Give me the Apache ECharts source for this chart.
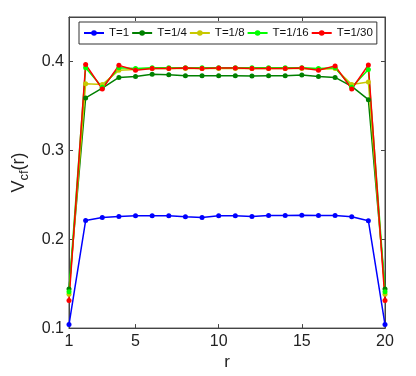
<!DOCTYPE html>
<html>
<head>
<meta charset="utf-8">
<script src="https://cdn.jsdelivr.net/npm/echarts@6/dist/echarts.min.js"></script>
<style>
  html, body { margin: 0; padding: 0; background: #fff; }
  #chart { width: 416px; height: 376px; }
</style>
</head>
<body>
<div id="chart"></div>
<script>
  // r = 1..20
  var r = [1,2,3,4,5,6,7,8,9,10,11,12,13,14,15,16,17,18,19,20];
  var xTicks = [1, 5, 10, 15, 20];
  var seriesNames = ['T=1', 'T=1/4', 'T=1/8', 'T=1/16', 'T=1/30'];
  var seriesColors = ['#0000ff', '#008000', '#c8c800', '#00ff00', '#ff0000'];

  var vT1 = [0.104,0.221,0.2245,0.2256,0.2263,0.2265,0.2265,0.2252,0.2244,0.2263,0.2263,0.2256,0.2267,0.2267,0.227,0.2267,0.2266,0.2252,0.2208,0.104];
  var vT4 = [0.144,0.359,0.370,0.382,0.383,0.3856,0.385,0.384,0.384,0.384,0.384,0.3835,0.384,0.384,0.3848,0.383,0.382,0.372,0.357,0.144];
  var vT8 = [0.138,0.375,0.374,0.390,0.391,0.392,0.392,0.392,0.392,0.392,0.392,0.392,0.392,0.392,0.392,0.391,0.392,0.374,0.377,0.138];
  var vT16 = [0.141,0.393,0.371,0.393,0.392,0.393,0.393,0.393,0.393,0.393,0.393,0.393,0.393,0.393,0.393,0.392,0.393,0.371,0.391,0.141];
  var vT30 = [0.131,0.3967,0.369,0.3956,0.390,0.392,0.392,0.3925,0.392,0.3925,0.3925,0.392,0.392,0.392,0.3925,0.390,0.395,0.369,0.396,0.131];

  var allValues = [vT1, vT4, vT8, vT16, vT30];

  var myChart = echarts.init(document.getElementById('chart'));

  function pairs(vals) {
    return r.map(function (x, i) { return [x, vals[i]]; });
  }

  var axisCol = '#444';
  var font = 'Liberation Sans, Arial, sans-serif';

  var series = seriesNames.map(function (name, i) {
    return {
      name: name,
      type: 'line',
      data: pairs(allValues[i]),
      symbol: 'circle',
      symbolSize: 5,
      lineStyle: { width: 1.5, color: seriesColors[i] },
      itemStyle: { color: seriesColors[i] },
      emphasis: { disabled: true },
      animation: false
    };
  });

  var option = {
    backgroundColor: '#fff',
    animation: false,
    grid: { left: 69, right: 31, top: 17, bottom: 44, show: true, borderColor: axisCol, borderWidth: 1 },
    legend: {
      data: seriesNames,
      left: 79, top: 22,
      width: 340,
      padding: [5, 4],
      itemGap: 2,
      itemWidth: 20, itemHeight: 7,
      borderColor: '#333', borderWidth: 1,
      backgroundColor: '#fff',
      textStyle: { fontSize: 11.5, fontFamily: font, color: '#111' }
    },
    xAxis: [{
      type: 'value', min: 1, max: 20,
      name: 'r', nameLocation: 'middle', nameGap: 15,
      nameTextStyle: { fontSize: 17, fontFamily: font, color: '#222' },
      axisLine: { lineStyle: { color: axisCol } },
      axisTick: { inside: true, length: 4, customValues: xTicks, lineStyle: { color: axisCol } },
      axisLabel: { customValues: xTicks, fontSize: 16, fontFamily: font, color: '#222', margin: 5 },
      splitLine: { show: false }
    }, {
      type: 'value', min: 1, max: 20, position: 'top',
      axisLine: { lineStyle: { color: axisCol } },
      axisTick: { inside: true, length: 4, customValues: xTicks, lineStyle: { color: axisCol } },
      axisLabel: { show: false },
      splitLine: { show: false }
    }],
    yAxis: [{
      type: 'value', min: 0.1, max: 0.45, interval: 0.1,
      name: 'V{sub|cf}(r)', nameLocation: 'middle', nameGap: 37, nameRotate: 90,
      nameTextStyle: {
        fontSize: 18, fontFamily: font, color: '#222',
        rich: { sub: { fontSize: 13, fontFamily: font, color: '#222', verticalAlign: 'bottom', padding: [10, 0, 0, 0] } }
      },
      axisLine: { show: true, lineStyle: { color: axisCol } },
      axisTick: { show: true, inside: true, length: 4, lineStyle: { color: axisCol } },
      axisLabel: { fontSize: 16, fontFamily: font, color: '#222', showMaxLabel: false, margin: 5,
        formatter: function (v) { return v.toFixed(1); } },
      splitLine: { show: false }
    }, {
      type: 'value', min: 0.1, max: 0.45, interval: 0.1, position: 'right',
      axisLine: { show: true, lineStyle: { color: axisCol } },
      axisTick: { show: true, inside: true, length: 4, lineStyle: { color: axisCol } },
      axisLabel: { show: false },
      splitLine: { show: false }
    }],
    series: series
  };

  myChart.setOption(option);
</script>
</body>
</html>
